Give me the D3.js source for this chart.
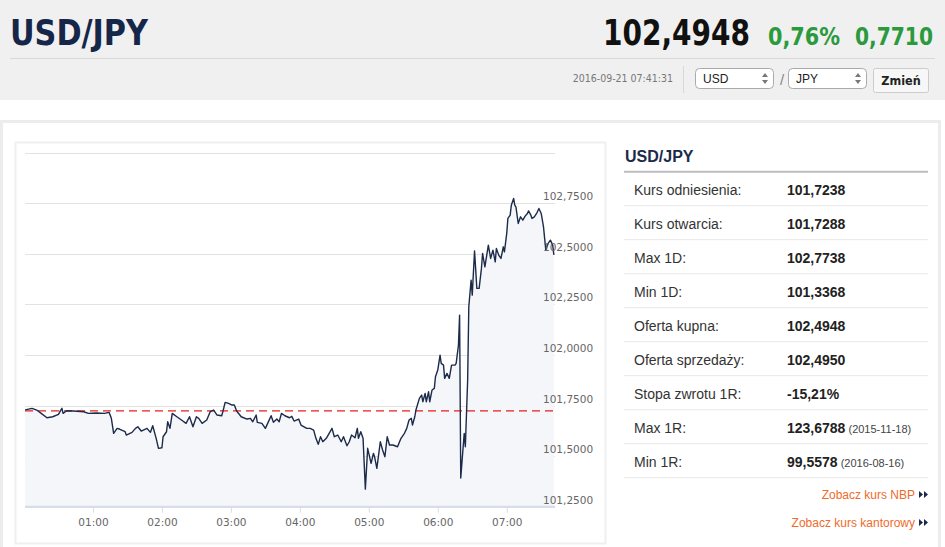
<!DOCTYPE html>
<html>
<head>
	<title>USD/JPY</title>
	<meta charset="utf-8">
	<script src="https://d3js.org/d3.v7.min.js" charset="utf-8"></script>
	<style>
		body { margin: 0; background: #fff; }
		svg text { font-family: "Liberation Sans", Arial, sans-serif; }
	</style>
</head>
<body>
	<svg width="945" height="547"></svg>
	<script>
		// intraday quotes
		var times = ["00:01","00:07","00:11","00:15","00:20","00:25","00:30","00:32","00:33","00:34",
			"00:37","00:43","00:52","00:56","01:03","01:10","01:14","01:16","01:18","01:21",
			"01:23","01:28","01:29","01:34","01:37","01:39","01:42","01:47","01:50","01:52",
			"01:55","01:57","02:00","02:01","02:04","02:05","02:07","02:09","02:13","02:17",
			"02:21","02:24","02:27","02:30","02:32","02:35","02:39","02:42","02:45","02:48",
			"02:52","02:53","02:55","02:58","03:01","03:03","03:05","03:09","03:14","03:17",
			"03:19","03:22","03:23","03:27","03:30","03:32","03:35","03:37","03:40","03:42",
			"03:44","03:47","03:51","03:53","03:55","03:59","04:01","04:06","04:09","04:12",
			"04:14","04:16","04:18","04:20","04:23","04:25","04:28","04:30","04:33","04:36",
			"04:38","04:41","04:43","04:45","04:48","04:50","04:51","04:53","04:55","04:57",
			"04:59","05:02","05:04","05:05","05:07","05:10","05:12","05:14","05:16","05:18",
			"05:21","05:25","05:28","05:31","05:33","05:35","05:37","05:38","05:40","05:41",
			"05:44","05:46","05:47","05:49","05:50","05:52","05:53","05:55","05:57","05:58",
			"06:00","06:02","06:03","06:05","06:06","06:08","06:10","06:12","06:15","06:16",
			"06:18","06:19","06:20","06:23","06:24","06:26","06:27","06:29","06:30","06:32",
			"06:34","06:36","06:38","06:39","06:41","06:44","06:46","06:48","06:50","06:51",
			"06:53","06:55","06:57","06:58","07:00","07:01","07:03","07:04","07:06","07:07",
			"07:08","07:10","07:12","07:14","07:16","07:18","07:19","07:21","07:22","07:24",
			"07:26","07:28","07:30","07:32","07:34","07:36","07:38","07:40","07:41"];
		var rates = [101.7288,101.7362,101.7278,101.7115,101.6897,101.6947,101.7065,101.7278,101.7362,101.7115,
			101.7243,101.7229,101.7194,101.7115,101.7130,101.7115,101.7164,101.6868,101.6127,101.6374,
			101.6339,101.6206,101.6043,101.6176,101.6374,101.6453,101.6240,101.6374,101.6176,101.6502,
			101.5880,101.5386,101.5415,101.5959,101.6206,101.6700,101.6374,101.7115,101.6947,101.6784,
			101.6621,101.6947,101.6453,101.6947,101.6868,101.6621,101.6784,101.7194,101.7278,101.7031,
			101.6996,101.7194,101.7658,101.7609,101.7525,101.7525,101.7229,101.6947,101.6833,101.6868,
			101.6700,101.7031,101.6670,101.6621,101.6374,101.6621,101.6996,101.6670,101.6833,101.6700,
			101.7115,101.6996,101.6897,101.6967,101.6734,101.6833,101.6537,101.6374,101.6374,101.6290,
			101.5880,101.5583,101.5959,101.5712,101.5880,101.6077,101.6374,101.5959,101.6043,101.5712,
			101.5959,101.5514,101.5712,101.6043,101.5909,101.6374,101.5880,101.6206,101.5880,101.3368,
			101.5386,101.4644,101.5138,101.4970,101.4397,101.5712,101.5302,101.4970,101.5959,101.5549,
			101.5549,101.5465,101.5880,101.6127,101.6374,101.6784,101.6868,101.6537,101.6947,101.7278,
			101.7856,101.8019,101.7688,101.8103,101.7688,101.8182,101.7688,101.8266,101.8350,101.8923,
			101.9254,101.9995,101.9585,101.9501,101.8844,101.9091,101.8844,101.9501,101.9501,101.9585,
			102.0490,102.1972,101.3918,101.6127,101.5465,101.8760,102.2382,102.3701,102.2960,102.5149,
			102.3291,102.3291,102.4279,102.5020,102.4358,102.5431,102.4773,102.5184,102.4605,102.5268,
			102.4937,102.4773,102.5347,102.5100,102.6009,102.6750,102.6913,102.7407,102.7738,102.7407,
			102.7323,102.6503,102.6829,102.6666,102.6864,102.6997,102.7125,102.6913,102.6750,102.6829,
			102.6997,102.7244,102.6997,102.6335,102.5184,102.5515,102.5678,102.5431,102.4948];
		var refRate = 101.7238;
		var yTicks = [101.25,101.5,101.75,102,102.25,102.5,102.75,103];
		var xTicks = ["01:00","02:00","03:00","04:00","05:00","06:00","07:00"];
		var xRange = ["00:00","07:42"];

		var rowLabels = ["Kurs odniesienia:","Kurs otwarcia:","Max 1D:","Min 1D:","Oferta kupna:",
			"Oferta sprzedaży:","Stopa zwrotu 1R:","Max 1R:","Min 1R:"];
		var rowValues = ["101,7238","101,7288","102,7738","101,3368","102,4948","102,4950","-15,21%","123,6788","99,5578"];
		var rowDates = ["","","","","","","","(2015-11-18)","(2016-08-16)"];
		var links = ["Zobacz kurs NBP","Zobacz kurs kantorowy"];

		var svg = d3.select('svg');
		var parseTime = d3.timeParse('%H:%M');
		var comma = function(v, f) { return d3.format(f)(v).replace('.', ','); };
		var condensed = '"DejaVu Sans Condensed", "Liberation Sans Narrow", sans-serif';

		// ---------- header ----------
		svg.append('rect').attr('x', 0).attr('y', 0).attr('width', 945).attr('height', 100).style('fill', '#f0f0f0');
		svg.append('text').attr('x', 10).attr('y', 45).text('USD/JPY')
			.style('font-family', condensed).style('font-size', '36px').style('font-weight', 'bold').style('fill', '#152649')
			.attr('textLength', 138).attr('lengthAdjust', 'spacingAndGlyphs');
		svg.append('text').attr('x', 603).attr('y', 45).text(comma(rates[rates.length - 1], '.4f'))
			.style('font-family', condensed).style('font-size', '35px').style('font-weight', 'bold').style('fill', '#111')
			.attr('textLength', 147).attr('lengthAdjust', 'spacingAndGlyphs');
		svg.append('text').attr('x', 768).attr('y', 45).text('0,76%')
			.style('font-family', condensed).style('font-size', '25px').style('font-weight', 'bold').style('fill', '#2a9a3c')
			.attr('textLength', 72).attr('lengthAdjust', 'spacingAndGlyphs');
		svg.append('text').attr('x', 855).attr('y', 45).text('0,7710')
			.style('font-family', condensed).style('font-size', '25px').style('font-weight', 'bold').style('fill', '#2a9a3c')
			.attr('textLength', 78).attr('lengthAdjust', 'spacingAndGlyphs');
		svg.append('line').attr('x1', 10).attr('x2', 935).attr('y1', 58.5).attr('y2', 58.5).style('stroke', '#d8d8d8');

		svg.append('text').attr('x', 673).attr('y', 82).attr('text-anchor', 'end').text('2016-09-21 07:41:31')
			.style('font-family', condensed).style('font-size', '10.5px').style('fill', '#777');
		svg.append('line').attr('x1', 683.5).attr('x2', 683.5).attr('y1', 66).attr('y2', 93).style('stroke', '#d8d8d8');

		var selects = [{x: 695, t: 'USD'}, {x: 788, t: 'JPY'}];
		selects.forEach(function(s) {
			svg.append('rect').attr('x', s.x + 0.5).attr('y', 68.5).attr('width', 78).attr('height', 20).attr('rx', 4)
				.style('fill', '#fff').style('stroke', '#aaa');
			svg.append('text').attr('x', s.x + 8).attr('y', 82.5).text(s.t).style('font-size', '12px').style('fill', '#222');
			svg.append('path').attr('d', 'M' + (s.x + 67) + ',77 l3,-4 l3,4 z M' + (s.x + 67) + ',80 l3,4 l3,-4 z')
				.style('fill', '#777');
		});
		svg.append('text').attr('x', 780).attr('y', 85).text('/').style('font-size', '15px').style('fill', '#888');
		svg.append('rect').attr('x', 873.5).attr('y', 68.5).attr('width', 55).attr('height', 24).attr('rx', 2)
			.style('fill', '#f7f7f7').style('stroke', '#ccc');
		svg.append('text').attr('x', 901).attr('y', 85).attr('text-anchor', 'middle').text('Zmień')
			.style('font-family', condensed).style('font-size', '12.5px').style('font-weight', 'bold').style('fill', '#222');

		// ---------- panels ----------
		svg.append('rect').attr('x', 1.5).attr('y', 121.5).attr('width', 938).attr('height', 440)
			.style('fill', '#fff').style('stroke', '#ececec').style('stroke-width', 3);
		svg.append('rect').attr('x', 15.5).attr('y', 142.5).attr('width', 590).attr('height', 401)
			.style('fill', '#fff').style('stroke', '#efefef').style('stroke-width', 2);

		// ---------- chart ----------
		var x = d3.scaleTime().domain(xRange.map(parseTime)).range([24, 555]);
		var y = d3.scaleLinear().domain([101.25, 103]).range([506.7, 152.7]);
		var data = times.map(function(t, i) { return {t: parseTime(t), v: rates[i]}; });

		var chart = svg.append('g');

		chart.append('g').selectAll('line').data(yTicks).enter().append('line')
			.attr('x1', 25).attr('x2', 555)
			.attr('y1', function(d) { return Math.round(y(d)) + 0.5; })
			.attr('y2', function(d) { return Math.round(y(d)) + 0.5; })
			.style('stroke', '#e2e2e2');

		chart.append('path').datum(data)
			.attr('d', d3.area().x(function(d) { return x(d.t); }).y0(y(101.25)).y1(function(d) { return y(d.v); }))
			.style('fill', '#f4f6f9');

		chart.append('line').attr('x1', 25).attr('x2', 555).attr('y1', y(refRate)).attr('y2', y(refRate))
			.style('stroke', '#e5201d').style('stroke-dasharray', '8,5').style('stroke-width', 1.2);

		chart.append('path').datum(data)
			.attr('d', d3.line().x(function(d) { return x(d.t); }).y(function(d) { return y(d.v); }))
			.style('fill', 'none').style('stroke', '#1c2b4a').style('stroke-width', 1.4).style('stroke-linejoin', 'round');

		// y labels sit above their grid lines, on the right
		chart.append('g').selectAll('text').data(yTicks.slice(0, 7)).enter().append('text')
			.attr('x', 543).attr('y', function(d) { return y(d) - 3; })
			.text(function(d) { return comma(d, '.4f'); })
			.style('font-family', '"DejaVu Sans", Verdana, sans-serif').style('font-size', '10.5px').style('fill', '#666');

		var xAxis = chart.append('g').attr('transform', 'translate(0,' + y(101.25) + ')')
			.call(d3.axisBottom(x).tickValues(xTicks.map(parseTime)).tickFormat(d3.timeFormat('%H:%M')).tickSize(6).tickPadding(6));
		xAxis.select('.domain').attr('d', 'M25,0H555').style('stroke', '#d5dde8').style('stroke-width', 2);
		xAxis.selectAll('.tick line').style('stroke', '#d5dde8');
		xAxis.selectAll('.tick text').style('font-family', '"DejaVu Sans", Verdana, sans-serif')
			.style('font-size', '10.5px').style('fill', '#666');

		// ---------- quote table ----------
		svg.append('text').attr('x', 625).attr('y', 161.5).text('USD/JPY')
			.style('font-size', '16px').style('font-weight', 'bold').style('fill', '#1b2a4a');
		svg.append('line').attr('x1', 624).attr('x2', 928).attr('y1', 171.7).attr('y2', 171.7)
			.style('stroke', '#bdbdbd').style('stroke-width', 2);

		var row = d3.scaleBand().domain(rowLabels).range([171.7, 171.7 + 34 * rowLabels.length]);
		var rows = svg.append('g').selectAll('g').data(rowLabels).enter().append('g')
			.attr('transform', function(d) { return 'translate(0,' + row(d) + ')'; });
		rows.append('line').attr('x1', 624).attr('x2', 928).attr('y1', 34).attr('y2', 34).style('stroke', '#e8e8e8');
		rows.append('text').attr('x', 634).attr('y', 23.3).text(function(d) { return d; })
			.style('font-size', '14px').style('fill', '#333');
		var vals = rows.append('text').attr('x', 787).attr('y', 23.3);
		vals.append('tspan').text(function(d, i) { return rowValues[i]; })
			.style('font-size', '14px').style('font-weight', 'bold').style('fill', '#222');
		vals.append('tspan').text(function(d, i) { return rowDates[i] ? ' ' + rowDates[i] : ''; })
			.style('font-size', '11px').style('fill', '#444');

		var linkG = svg.append('g').selectAll('g').data(links).enter().append('g')
			.attr('transform', function(d, i) { return 'translate(0,' + (499 + 28 * i) + ')'; });
		linkG.append('text').attr('x', 915).attr('text-anchor', 'end').text(function(d) { return d; })
			.style('font-size', '12px').style('fill', '#f06a2a');
		linkG.append('path').attr('d', 'M919,-8 l4,3.5 l-4,3.5 z M924,-8 l4,3.5 l-4,3.5 z').style('fill', '#1b2a4a');
	</script>
</body>
</html>
